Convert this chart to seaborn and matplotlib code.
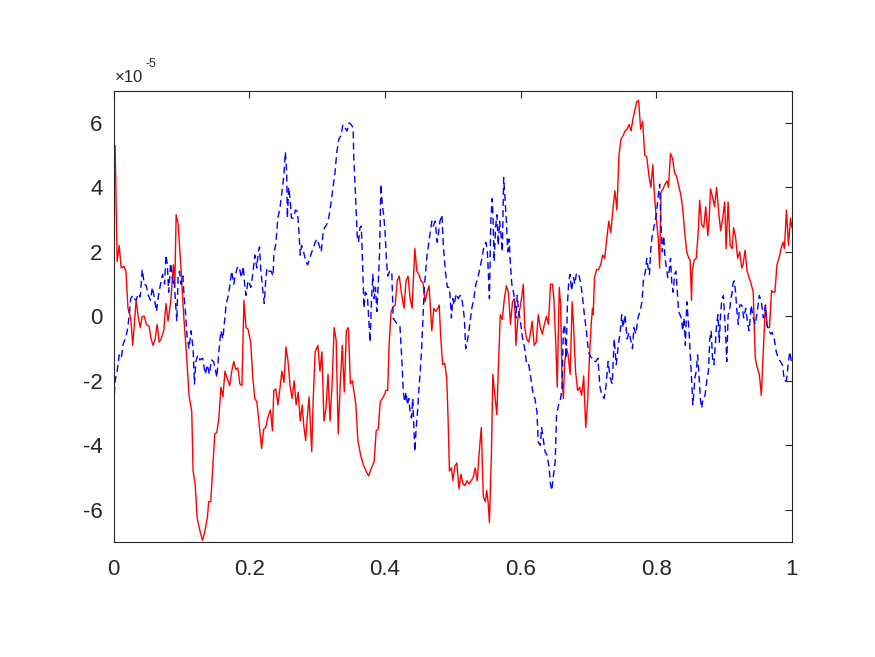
import numpy as np
import pandas as pd
import matplotlib
matplotlib.use('Agg')
import matplotlib.pyplot as plt
from matplotlib.ticker import FuncFormatter
import seaborn as sns

# red (solid) series, values in units of 1e-5
red_x = [0.000, 0.002, 0.005, 0.008, 0.011, 0.015, 0.018, 0.021, 0.025, 0.028,
         0.031, 0.033, 0.036, 0.039, 0.042, 0.045, 0.048, 0.052, 0.055, 0.058,
         0.061, 0.064, 0.067, 0.070, 0.074, 0.077, 0.080, 0.084, 0.087, 0.088,
         0.090, 0.092, 0.095, 0.097, 0.100, 0.103, 0.107, 0.111, 0.115, 0.117,
         0.120, 0.123, 0.127, 0.131, 0.134, 0.138, 0.140, 0.143, 0.146, 0.149,
         0.152, 0.155, 0.158, 0.161, 0.164, 0.167, 0.171, 0.174, 0.177, 0.180,
         0.183, 0.186, 0.189, 0.192, 0.195, 0.198, 0.202, 0.205, 0.208, 0.211,
         0.214, 0.218, 0.221, 0.224, 0.227, 0.231, 0.234, 0.236, 0.239, 0.242,
         0.245, 0.248, 0.251, 0.254, 0.257, 0.260, 0.263, 0.266, 0.269, 0.272,
         0.275, 0.278, 0.280, 0.283, 0.285, 0.288, 0.292, 0.294, 0.297, 0.301,
         0.304, 0.307, 0.310, 0.313, 0.316, 0.319, 0.322, 0.325, 0.328, 0.331,
         0.334, 0.337, 0.340, 0.343, 0.346, 0.349, 0.352, 0.354, 0.357, 0.360,
         0.364, 0.368, 0.372, 0.376, 0.380, 0.384, 0.387, 0.390, 0.393, 0.396,
         0.400, 0.401, 0.404, 0.406, 0.409, 0.412, 0.415, 0.418, 0.421, 0.424,
         0.428, 0.431, 0.434, 0.437, 0.440, 0.441, 0.444, 0.447, 0.450, 0.453,
         0.456, 0.459, 0.462, 0.465, 0.469, 0.472, 0.475, 0.478, 0.480, 0.482,
         0.485, 0.488, 0.491, 0.493, 0.495, 0.498, 0.500, 0.503, 0.506, 0.509,
         0.512, 0.515, 0.518, 0.521, 0.524, 0.527, 0.530, 0.533, 0.536, 0.539,
         0.542, 0.545, 0.548, 0.550, 0.552, 0.554, 0.557, 0.559, 0.562, 0.565,
         0.567, 0.570, 0.573, 0.576, 0.579, 0.582, 0.585, 0.588, 0.591, 0.593,
         0.596, 0.599, 0.602, 0.604, 0.606, 0.609, 0.612, 0.615, 0.617, 0.620,
         0.623, 0.626, 0.629, 0.632, 0.635, 0.638, 0.641, 0.644, 0.647, 0.649,
         0.652, 0.654, 0.657, 0.659, 0.661, 0.663, 0.665, 0.668, 0.670, 0.673,
         0.676, 0.678, 0.681, 0.684, 0.687, 0.690, 0.693, 0.696, 0.699, 0.701,
         0.704, 0.706, 0.707, 0.709, 0.712, 0.715, 0.718, 0.721, 0.724, 0.727,
         0.730, 0.733, 0.736, 0.739, 0.742, 0.745, 0.748, 0.751, 0.754, 0.757,
         0.760, 0.763, 0.765, 0.768, 0.771, 0.774, 0.777, 0.780, 0.783, 0.786,
         0.789, 0.792, 0.795, 0.797, 0.800, 0.803, 0.805, 0.807, 0.810, 0.813,
         0.816, 0.818, 0.821, 0.824, 0.827, 0.830, 0.833, 0.836, 0.839, 0.842,
         0.845, 0.848, 0.850, 0.852, 0.853, 0.856, 0.859, 0.862, 0.864, 0.867,
         0.870, 0.873, 0.876, 0.878, 0.880, 0.883, 0.886, 0.889, 0.892, 0.895,
         0.898, 0.901, 0.903, 0.906, 0.909, 0.912, 0.914, 0.917, 0.920, 0.923,
         0.926, 0.928, 0.931, 0.934, 0.937, 0.940, 0.943, 0.946, 0.949, 0.952,
         0.955, 0.958, 0.961, 0.964, 0.967, 0.970, 0.972, 0.975, 0.978, 0.981,
         0.984, 0.987, 0.989, 0.992, 0.995, 0.998, 1.000]
red_y = [4.7, 5.3, 1.7, 2.2, 1.5, 1.55, 1.4, 0.25, -0.05, -0.9,
         -0.05, 0.5, 0.0, -0.35, 0.0, 0.0, -0.25, -0.3, -0.7, -0.9,
         -0.7, -0.25, -0.8, -0.7, -0.4, 0.4, -0.15, 0.45, 1.3, 1.6,
         0.9, 3.15, 2.85, 2.2, 1.2, 0.05, -1.1, -2.45, -2.95, -4.8,
         -5.2, -6.25, -6.65, -6.95, -6.7, -6.25, -5.75, -5.75, -4.7, -3.65,
         -3.6, -3.15, -2.2, -2.5, -1.7, -1.9, -2.15, -1.7, -1.4, -1.65,
         -1.6, -2.1, -2.15, 0.5, -0.35, -0.4, -0.8, -1.9, -2.55, -2.65,
         -3.25, -4.1, -3.5, -3.45, -3.15, -2.9, -3.55, -2.3, -2.25, -2.75,
         -2.25, -1.7, -2.05, -0.95, -1.4, -2.15, -2.55, -2.0, -2.75, -2.35,
         -3.25, -2.75, -3.35, -3.85, -3.25, -2.5, -4.2, -2.65, -1.1, -0.9,
         -1.7, -1.1, -3.25, -2.85, -1.8, -3.25, -2.1, -0.35, -0.75, -3.65,
         -2.1, -0.9, -2.35, -0.45, -0.35, -2.1, -2.0, -2.3, -2.75, -3.85,
         -4.3, -4.6, -4.8, -4.95, -4.7, -4.5, -3.55, -3.5, -2.65, -2.55,
         -2.4, -2.3, -2.3, -0.9, 0.15, 0.3, 0.35, 1.1, 1.25, 0.75,
         0.25, 1.1, 1.25, 0.55, 0.25, 0.75, 2.1, 1.4, 1.3, 1.1,
         1.05, 0.45, 0.75, 0.95, -0.45, 0.25, 0.15, 0.25, 0.35, -0.6,
         -1.5, -1.45, -1.9, -3.15, -4.8, -4.7, -5.1, -4.65, -4.55, -5.35,
         -4.9, -5.2, -5.25, -5.1, -5.2, -5.1, -5.0, -4.7, -5.1, -4.2,
         -3.45, -5.6, -5.75, -5.4, -5.75, -6.4, -4.2, -1.8, -2.45, -3.05,
         -1.7, 0.05, -0.1, 0.55, 0.95, 0.75, -0.25, 0.45, 0.55, -0.9,
         -0.05, 0.25, 0.65, 1.0, -0.35, -0.7, -0.8, -0.45, -0.15, -0.9,
         -0.8, 0.05, -0.35, -0.55, -0.25, 0.0, -0.25, 1.0, 1.0, 0.55,
         -0.9, -2.2, 0.9, 0.35, -1.9, -2.55, -1.4, -1.0, -1.2, -1.8,
         0.45, -0.25, -1.7, -2.3, -2.2, -2.45, -1.85, -3.45, -2.55, -1.5,
         -0.25, 0.25, 0.05, 1.2, 1.45, 1.45, 1.6, 1.9, 1.8, 2.4,
         2.95, 2.6, 3.3, 3.9, 3.3, 5.0, 5.5, 5.6, 5.75, 5.8,
         5.95, 5.75, 6.05, 6.35, 6.65, 6.7, 5.8, 6.05, 5.0, 4.95,
         4.4, 4.0, 4.7, 3.85, 3.05, 2.4, 1.5, 3.85, 3.95, 4.1,
         4.2, 4.0, 5.05, 4.9, 4.45, 4.35, 4.05, 3.8, 3.35, 2.6,
         2.0, 1.8, 1.75, 0.5, 1.4, 1.75, 1.8, 2.65, 3.6, 2.85,
         2.75, 3.4, 2.5, 3.0, 3.95, 3.7, 3.4, 4.0, 3.25, 2.65,
         3.05, 3.55, 2.1, 3.55, 2.2, 2.1, 2.75, 2.45, 1.8, 2.0,
         1.5, 1.6, 2.05, 1.4, 1.2, 1.0, 0.75, -1.3, -1.6, -1.8,
         -2.45, -1.0, 0.35, -0.35, -0.35, 0.8, 0.75, 0.75, 1.6, 1.8,
         2.1, 2.3, 2.1, 3.3, 2.2, 3.05, 2.75]

# blue (dashed) series, values in units of 1e-5
blue_x = [0.000, 0.002, 0.005, 0.008, 0.011, 0.014, 0.017, 0.020, 0.023, 0.025,
          0.028, 0.030, 0.033, 0.036, 0.039, 0.042, 0.045, 0.048, 0.051, 0.054,
          0.057, 0.060, 0.063, 0.066, 0.069, 0.072, 0.075, 0.077, 0.079, 0.081,
          0.084, 0.086, 0.088, 0.089, 0.091, 0.093, 0.095, 0.097, 0.099, 0.102,
          0.104, 0.106, 0.108, 0.111, 0.114, 0.117, 0.119, 0.121, 0.124, 0.127,
          0.131, 0.135, 0.138, 0.141, 0.144, 0.147, 0.149, 0.152, 0.155, 0.158,
          0.161, 0.164, 0.166, 0.169, 0.172, 0.174, 0.177, 0.179, 0.182, 0.185,
          0.188, 0.191, 0.193, 0.195, 0.198, 0.199, 0.202, 0.205, 0.208, 0.211,
          0.213, 0.215, 0.217, 0.220, 0.222, 0.224, 0.226, 0.229, 0.232, 0.235,
          0.236, 0.239, 0.242, 0.245, 0.248, 0.251, 0.253, 0.255, 0.256, 0.258,
          0.260, 0.262, 0.265, 0.268, 0.271, 0.273, 0.275, 0.277, 0.280, 0.283,
          0.286, 0.289, 0.292, 0.294, 0.297, 0.300, 0.303, 0.306, 0.309, 0.311,
          0.314, 0.317, 0.320, 0.323, 0.326, 0.329, 0.332, 0.335, 0.338, 0.341,
          0.344, 0.347, 0.350, 0.353, 0.354, 0.357, 0.359, 0.361, 0.363, 0.365,
          0.367, 0.369, 0.371, 0.374, 0.376, 0.378, 0.380, 0.382, 0.384, 0.386,
          0.388, 0.390, 0.392, 0.394, 0.396, 0.398, 0.400, 0.402, 0.404, 0.407,
          0.410, 0.412, 0.415, 0.418, 0.422, 0.425, 0.427, 0.429, 0.431, 0.433,
          0.435, 0.437, 0.439, 0.441, 0.442, 0.444, 0.446, 0.448, 0.450, 0.452,
          0.454, 0.456, 0.458, 0.460, 0.462, 0.464, 0.466, 0.469, 0.471, 0.474,
          0.477, 0.479, 0.481, 0.484, 0.486, 0.489, 0.492, 0.495, 0.498, 0.500,
          0.502, 0.505, 0.508, 0.511, 0.514, 0.517, 0.519, 0.522, 0.525, 0.528,
          0.531, 0.534, 0.537, 0.540, 0.543, 0.546, 0.549, 0.551, 0.554, 0.556,
          0.558, 0.559, 0.561, 0.563, 0.565, 0.567, 0.569, 0.571, 0.573, 0.575,
          0.577, 0.579, 0.581, 0.583, 0.585, 0.587, 0.589, 0.591, 0.593, 0.595,
          0.597, 0.599, 0.603, 0.606, 0.609, 0.612, 0.615, 0.618, 0.621, 0.624,
          0.626, 0.629, 0.631, 0.633, 0.636, 0.639, 0.642, 0.644, 0.646, 0.648,
          0.651, 0.653, 0.656, 0.659, 0.661, 0.663, 0.665, 0.667, 0.669, 0.671,
          0.673, 0.675, 0.678, 0.680, 0.682, 0.685, 0.688, 0.691, 0.694, 0.697,
          0.700, 0.703, 0.706, 0.708, 0.711, 0.714, 0.717, 0.720, 0.723, 0.726,
          0.729, 0.732, 0.735, 0.738, 0.741, 0.744, 0.747, 0.749, 0.751, 0.754,
          0.757, 0.760, 0.763, 0.765, 0.767, 0.770, 0.773, 0.776, 0.779, 0.781,
          0.784, 0.786, 0.788, 0.790, 0.792, 0.794, 0.796, 0.800, 0.803, 0.805,
          0.807, 0.809, 0.811, 0.813, 0.815, 0.817, 0.819, 0.821, 0.823, 0.825,
          0.827, 0.829, 0.831, 0.833, 0.835, 0.837, 0.839, 0.841, 0.843, 0.845,
          0.847, 0.849, 0.851, 0.853, 0.854, 0.857, 0.859, 0.861, 0.863, 0.865,
          0.867, 0.869, 0.872, 0.875, 0.877, 0.879, 0.881, 0.883, 0.885, 0.887,
          0.889, 0.891, 0.893, 0.895, 0.897, 0.899, 0.902, 0.904, 0.906, 0.908,
          0.910, 0.912, 0.913, 0.915, 0.917, 0.919, 0.921, 0.923, 0.926, 0.929,
          0.932, 0.935, 0.937, 0.940, 0.943, 0.946, 0.949, 0.952, 0.955, 0.958,
          0.961, 0.963, 0.966, 0.969, 0.971, 0.974, 0.977, 0.980, 0.983, 0.986,
          0.989, 0.992, 0.995, 0.997, 1.000]
blue_y = [-2.75, -2.0, -1.7, -1.2, -1.3, -0.85, -0.7, -0.45, 0.05, 0.55,
          0.65, 0.55, 0.5, 0.7, 0.6, 1.45, 1.0, 0.95, 0.65, 0.5,
          0.9, 0.55, 0.15, 0.65, 1.0, 1.3, 1.0, 1.9, 1.6, 0.75,
          1.65, 1.25, 1.0, 1.1, 0.45, -0.15, 1.3, 1.4, 1.0, 1.25,
          0.55, 0.05, -0.6, -1.0, -0.45, -1.0, -2.1, -1.4, -1.2, -1.35,
          -1.3, -1.8, -1.5, -1.8, -1.35, -1.4, -1.55, -1.9, -1.1, -0.45,
          -0.7, 0.0, 0.4, 0.65, 1.1, 1.4, 1.0, 1.25, 1.5, 1.55,
          1.2, 1.55, 1.0, 0.65, 1.1, 1.1, 0.9, 1.3, 1.9, 1.5,
          2.0, 2.15, 1.4, 0.75, 0.4, 1.1, 1.5, 1.4, 1.4, 1.25,
          1.9, 2.25, 3.05, 3.35, 3.85, 4.4, 5.1, 4.5, 3.05, 4.0,
          3.65, 3.05, 3.05, 3.3, 3.25, 2.65, 1.9, 2.2, 2.0, 1.7,
          1.6, 1.8, 2.0, 2.1, 2.3, 2.4, 2.2, 2.0, 2.65, 2.75,
          2.85, 3.05, 3.45, 3.95, 4.4, 5.1, 5.5, 5.6, 5.95, 5.85,
          5.75, 6.0, 5.95, 5.85, 4.9, 3.55, 2.5, 2.3, 2.75, 2.8,
          1.6, 0.25, 0.75, 0.65, -0.05, -0.8, 0.45, 1.3, 0.55, 0.9,
          0.15, 1.0, 2.0, 4.1, 3.45, 3.15, 2.65, 1.8, 1.25, 1.4,
          1.4, -0.05, -0.15, -0.25, -0.3, -1.4, -2.35, -2.65, -2.35, -2.75,
          -2.55, -2.95, -3.15, -2.55, -3.15, -4.2, -3.45, -2.95, -2.25, -1.7,
          -1.0, -0.05, 0.9, 1.4, 1.9, 2.2, 2.5, 2.95, 2.8, 2.95,
          2.3, 2.6, 2.95, 3.15, 2.2, 1.4, 0.9, 0.9, -0.05, 0.55,
          0.35, 0.7, 0.55, 0.65, 0.45, -0.05, -1.0, -0.7, -0.25, 0.25,
          0.55, 1.0, 1.2, 1.5, 1.8, 2.2, 2.3, 2.0, 0.55, 2.95,
          3.65, 3.25, 1.7, 2.75, 3.15, 2.2, 2.95, 2.55, 2.0, 4.3,
          3.65, 2.95, 2.0, 2.4, 1.6, 1.0, 0.8, 0.55, -0.05, 0.65,
          0.15, -0.05, -0.7, -1.0, -1.5, -1.5, -1.9, -2.35, -2.55, -2.95,
          -3.9, -4.0, -3.45, -3.75, -4.2, -4.3, -4.7, -5.2, -5.4, -5.0,
          -4.5, -3.05, -2.75, -2.55, -2.2, -0.45, -0.25, -1.3, 0.35, 1.1,
          1.3, 0.8, 1.2, 1.0, 1.3, 1.35, 1.1, 0.65, 0.05, -0.45,
          -1.1, -1.25, -1.3, -1.4, -1.4, -1.3, -2.2, -2.45, -2.55, -2.15,
          -1.4, -1.9, -2.1, -0.7, -1.5, -0.9, -0.45, 0.05, -0.35, 0.05,
          -0.7, -0.5, -0.8, -1.0, -0.35, -0.55, -0.05, 0.15, 0.45, 1.1,
          1.4, 1.8, 1.5, 1.3, 2.1, 2.5, 2.7, 3.15, 3.75, 4.1,
          2.85, 2.0, 2.5, 1.8, 1.5, 1.2, 1.4, 1.8, 1.0, 0.75,
          1.3, 1.4, 0.75, 0.15, 0.05, -0.05, -0.45, -0.05, -0.9, 0.45,
          -0.05, -0.7, -1.5, -2.35, -2.75, -1.9, -1.7, -1.2, -1.8, -2.55,
          -2.85, -2.55, -2.45, -1.9, -1.7, -0.7, -0.45, -1.3, -1.5, -0.9,
          -0.25, 0.05, -0.8, 0.15, 0.55, 0.65, -0.45, -1.4, 0.05, 0.15,
          0.55, 0.75, 1.0, 1.1, 0.75, 0.15, -0.25, 0.35, 0.35, -0.05,
          0.25, -0.25, -0.45, 0.35, -0.05, -0.25, 0.15, 0.65, 0.45, -0.05,
          0.35, -0.25, -0.45, -0.55, -0.5, -0.7, -1.1, -1.3, -1.4, -1.5,
          -2.0, -2.0, -1.4, -1.1, -1.5]

x_ticks = [0, 0.2, 0.4, 0.6, 0.8, 1]
y_ticks = [-6, -4, -2, 0, 2, 4, 6]
exponent = '-5'

red_df = pd.DataFrame({'x': red_x, 'y': red_y})
blue_df = pd.DataFrame({'x': blue_x, 'y': blue_y})

sns.set_theme(style='white')
plt.rcParams['font.family'] = ['Liberation Sans', 'DejaVu Sans']
plt.rcParams['axes.unicode_minus'] = False
dark = '#262626'

fig = plt.figure(figsize=(8.75, 6.57), dpi=100)
ax = fig.add_axes([0.130, 0.175, 0.775, 0.687])

sns.lineplot(data=red_df, x='x', y='y', ax=ax, color='#ff0000', lw=1.0,
             sort=False, estimator=None)
sns.lineplot(data=blue_df, x='x', y='y', ax=ax, color='#0000ff', lw=1.0,
             sort=False, estimator=None, linestyle=(0, (5, 3)))

ax.set_xlim(0, 1)
ax.set_ylim(-7, 7)
ax.set_xticks(x_ticks)
ax.set_yticks(y_ticks)
ax.xaxis.set_major_formatter(FuncFormatter(lambda v, p: '%g' % v))
ax.yaxis.set_major_formatter(FuncFormatter(lambda v, p: '%g' % v))
ax.set_xlabel('')
ax.set_ylabel('')
ax.tick_params(direction='in', length=5, width=0.8, color=dark,
               labelsize=16, labelcolor=dark, top=True, right=True)
ax.tick_params(axis='x', pad=12)
ax.tick_params(axis='y', pad=8)
for s in ax.spines.values():
    s.set_color(dark)
    s.set_linewidth(0.8)

# MATLAB style exponent label
ax.annotate('\u00d710', xy=(0, 1), xycoords='axes fraction', xytext=(0.5, 6.5),
            textcoords='offset points', fontsize=12, color=dark,
            ha='left', va='baseline')
ax.annotate(exponent, xy=(0, 1), xycoords='axes fraction', xytext=(22.5, 17),
            textcoords='offset points', fontsize=9, color=dark,
            ha='left', va='baseline')

fig.savefig('out.png', dpi=100)
